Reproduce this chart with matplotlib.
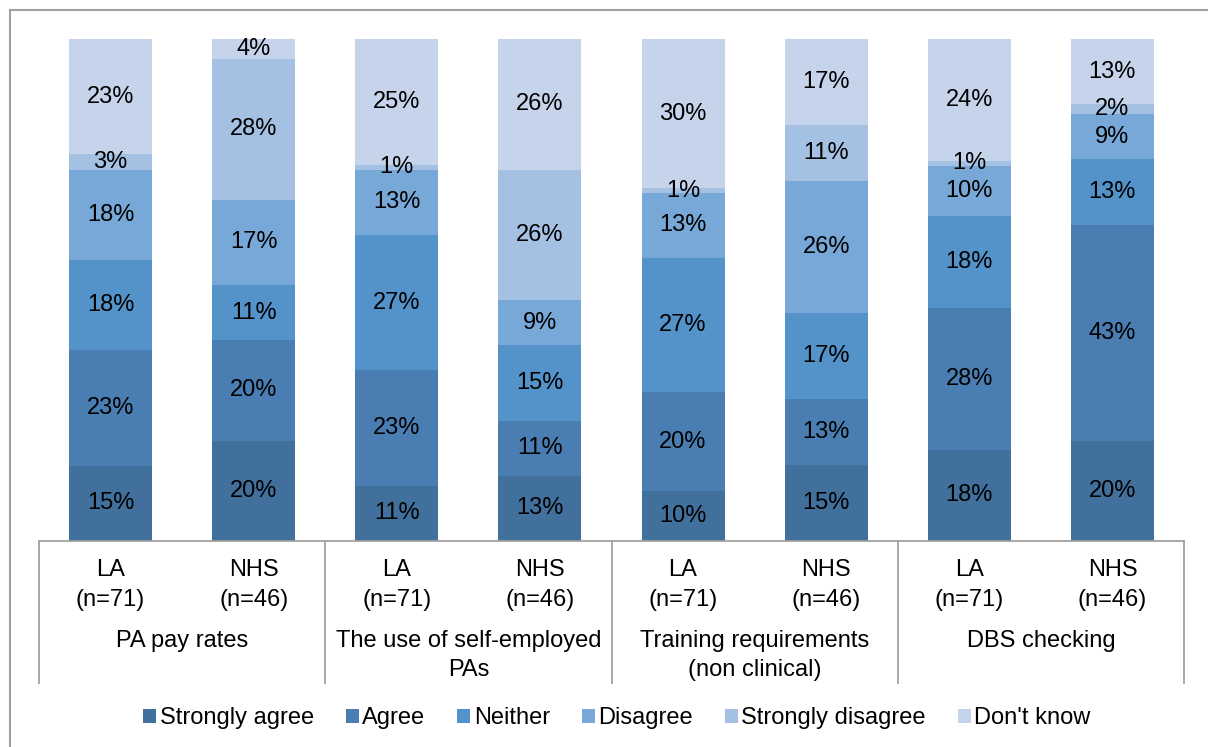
import numpy as np
import matplotlib
matplotlib.use('Agg')
import matplotlib.pyplot as plt
from matplotlib.lines import Line2D
from matplotlib.patches import Patch

plt.rcParams['font.family'] = ['Liberation Sans', 'DejaVu Sans']

# Data
groups = ['PA pay rates', 'The use of self-employed\nPAs',
          'Training requirements\n(non clinical)', 'DBS checking']
bar_labels = ['LA\n(n=71)', 'NHS\n(n=46)'] * 4
responses = ['Strongly agree', 'Agree', 'Neither', 'Disagree',
             'Strongly disagree', "Don't know"]
strongly_agree = [15, 20, 11, 13, 10, 15, 18, 20]
agree = [23, 20, 23, 11, 20, 13, 28, 43]
neither = [18, 11, 27, 15, 27, 17, 18, 13]
disagree = [18, 17, 13, 9, 13, 26, 10, 9]
strongly_disagree = [3, 28, 1, 26, 1, 11, 1, 2]
dont_know = [23, 4, 25, 26, 30, 17, 24, 13]

colors = ['#41709C', '#4A7EB2', '#5493C9', '#78A8D8', '#A4C0E3', '#C5D4EB']

series = np.array([strongly_agree, agree, neither, disagree,
                   strongly_disagree, dont_know], dtype=float)
# 100% stacked, like the original spreadsheet chart
heights = series / series.sum(axis=0) * 100

FS = 17
W, H = 1208, 747
fig = plt.figure(figsize=(W / 100, H / 100), dpi=100)
ax = fig.add_axes([39 / W, (H - 541) / H, 1145 / W, 502 / H])

x = np.arange(len(bar_labels)) + 0.5
bottom = np.zeros(len(x))
for i, name in enumerate(responses):
    ax.bar(x, heights[i], width=0.58, bottom=bottom, color=colors[i],
           label=name, edgecolor='none')
    for xi, b, h, v in zip(x, bottom, heights[i], series[i]):
        ax.text(xi, b + h / 2, f'{int(v)}%', ha='center', va='center',
                fontsize=FS, color='black')
    bottom += heights[i]

ax.set_xlim(0, 8)
ax.set_ylim(0, 100)
for s in ['left', 'right', 'top']:
    ax.spines[s].set_visible(False)
ax.spines['bottom'].set_color('#A0A0A0')
ax.spines['bottom'].set_linewidth(1.3)
ax.set_xticks([])
ax.set_yticks([])

trans = ax.get_xaxis_transform()
sep_bottom = -(683 - 541) / 502
for xs in [0, 2, 4, 6, 8]:
    ax.add_line(Line2D([xs, xs], [0, sep_bottom], transform=trans,
                       color='#A0A0A0', lw=1.3, clip_on=False))

for xi, lab in zip(x, bar_labels):
    ax.text(xi, -(559 - 541) / 502, lab, transform=trans, ha='center',
            va='top', fontsize=FS, linespacing=1.45)
for gi, g in enumerate(groups):
    ax.text(2 * gi + 1, -(630 - 541) / 502, g, transform=trans, ha='center',
            va='top', fontsize=FS, linespacing=1.4)

handles = [Patch(facecolor=c, edgecolor='none') for c in colors]
fig.legend(handles, responses, loc='center', bbox_to_anchor=(617 / W, (H - 718) / H),
           ncol=6, frameon=False, fontsize=FS, handlelength=0.55, handleheight=0.55,
           handletextpad=0.15, columnspacing=1.35)

# outer chart frame (only top and left edges visible)
fig.add_artist(Line2D([9.5 / W, 1], [(H - 10) / H, (H - 10) / H],
                      transform=fig.transFigure, color='#A0A0A0', lw=1.5))
fig.add_artist(Line2D([9.5 / W, 9.5 / W], [0, (H - 10) / H],
                      transform=fig.transFigure, color='#A0A0A0', lw=1.5))

fig.savefig('out.png', dpi=100)
